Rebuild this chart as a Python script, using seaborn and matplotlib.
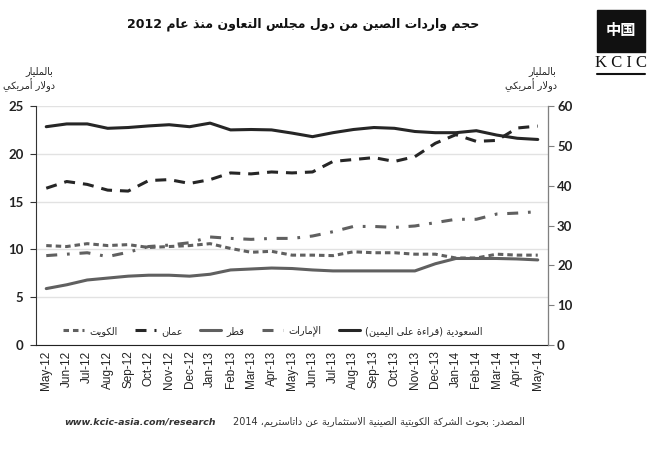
import re
import numpy as np
import pandas as pd
import seaborn as sns
import matplotlib.pyplot as plt
from matplotlib.patches import Rectangle
from matplotlib.lines import Line2D

# --- data ---
months = ['May-12', 'Jun-12', 'Jul-12', 'Aug-12', 'Sep-12', 'Oct-12', 'Nov-12', 'Dec-12',
          'Jan-13', 'Feb-13', 'Mar-13', 'Apr-13', 'May-13', 'Jun-13', 'Jul-13', 'Aug-13',
          'Sep-13', 'Oct-13', 'Nov-13', 'Dec-13', 'Jan-14', 'Feb-14', 'Mar-14', 'Apr-14', 'May-14']

# left axis (bn USD)
kuwait = [10.4, 10.3, 10.6, 10.4, 10.5, 10.2, 10.3, 10.4, 10.6, 10.1, 9.7, 9.8, 9.4,
          9.4, 9.35, 9.75, 9.65, 9.65, 9.5, 9.5, 9.1, 9.1, 9.5, 9.4, 9.4]
oman = [16.4, 17.1, 16.8, 16.2, 16.1, 17.2, 17.3, 16.9, 17.3, 18.0, 17.9, 18.1, 18.0,
        18.1, 19.2, 19.4, 19.6, 19.2, 19.7, 21.1, 22.0, 21.3, 21.4, 22.7, 22.9]
qatar = [5.9, 6.3, 6.8, 7.0, 7.2, 7.3, 7.3, 7.2, 7.4, 7.85, 7.95, 8.05, 8.0,
         7.85, 7.75, 7.75, 7.75, 7.75, 7.75, 8.5, 9.05, 9.05, 9.05, 9.0, 8.9]
uae = [9.35, 9.5, 9.65, 9.25, 9.7, 10.3, 10.45, 10.7, 11.3, 11.15, 11.05, 11.15, 11.15,
       11.4, 11.85, 12.4, 12.4, 12.3, 12.45, 12.8, 13.15, 13.15, 13.7, 13.8, 13.95]
# right axis (bn USD)
saudi = [54.8, 55.5, 55.5, 54.4, 54.6, 55.0, 55.3, 54.8, 55.7, 54.0, 54.1, 54.0, 53.2,
         52.3, 53.3, 54.1, 54.6, 54.4, 53.6, 53.3, 53.3, 53.8, 52.7, 51.9, 51.6]

left_ticks = [0, 5, 10, 15, 20, 25]
right_ticks = [0, 10, 20, 30, 40, 50, 60]

# --- minimal arabic shaping (presentation forms + visual order) ---
DUAL = {'ئ': 0xFE89, 'ب': 0xFE8F, 'ت': 0xFE95, 'ث': 0xFE99, 'ج': 0xFE9D, 'ح': 0xFEA1,
        'خ': 0xFEA5, 'س': 0xFEB1, 'ش': 0xFEB5, 'ص': 0xFEB9, 'ض': 0xFEBD, 'ط': 0xFEC1,
        'ظ': 0xFEC5, 'ع': 0xFEC9, 'غ': 0xFECD, 'ف': 0xFED1, 'ق': 0xFED5, 'ك': 0xFED9,
        'ل': 0xFEDD, 'م': 0xFEE1, 'ن': 0xFEE5, 'ه': 0xFEE9, 'ي': 0xFEF1}
RIGHT = {'آ': 0xFE81, 'أ': 0xFE83, 'ؤ': 0xFE85, 'إ': 0xFE87, 'ا': 0xFE8D, 'ة': 0xFE93,
         'د': 0xFEA9, 'ذ': 0xFEAB, 'ر': 0xFEAD, 'ز': 0xFEAF, 'و': 0xFEED, 'ى': 0xFEEF}
LAM_ALEF = {'ا': 0xFEFB, 'أ': 0xFEF7, 'إ': 0xFEF9, 'آ': 0xFEF5}


def ar(text):
    res = []
    prev = ''
    i = 0
    while i < len(text):
        c = text[i]
        nxt = text[i + 1] if i + 1 < len(text) else ''
        conn = prev in DUAL
        if c == 'ل' and nxt in LAM_ALEF:
            res.append(chr(LAM_ALEF[nxt] + (1 if conn else 0)))
            prev = nxt
            i += 2
            continue
        if c in DUAL:
            fwd = nxt in DUAL or nxt in RIGHT
            res.append(chr(DUAL[c] + [[0, 2], [1, 3]][conn][fwd]))
        elif c in RIGHT:
            res.append(chr(RIGHT[c] + (1 if conn else 0)))
        else:
            res.append(c)
        prev = c
        i += 1
    s = ''.join(res)[::-1].translate(str.maketrans('()', ')('))
    return re.sub(r'[A-Za-z0-9]+', lambda m: m.group(0)[::-1], s)


sns.set_style('white')
plt.rcParams['font.family'] = ['DejaVu Sans']

fig = plt.figure(figsize=(6.66, 4.5), dpi=100)
ax = fig.add_axes([36 / 666, 1 - 345 / 450, 512 / 666, 239 / 450])
ax2 = ax.twinx()

grey = '#606060'
black = '#262626'
lw = 2.2
sns.lineplot(x=months, y=kuwait, ax=ax, sort=False, color=grey, lw=lw,
             linestyle=(0, (1.8, 1.3)), label=ar('الكويت'))
sns.lineplot(x=months, y=oman, ax=ax, sort=False, color=black, lw=lw,
             linestyle=(0, (3.6, 2.6)), label=ar('عمان'))
sns.lineplot(x=months, y=qatar, ax=ax, sort=False, color=grey, lw=lw,
             label=ar('قطر'))
sns.lineplot(x=months, y=uae, ax=ax, sort=False, color=grey, lw=lw,
             linestyle=(0, (3.6, 3.2, 0.9, 3.2)), label=ar('الإمارات'))
sns.lineplot(x=months, y=saudi, ax=ax2, sort=False, color=black, lw=lw,
             label=ar('السعودية (قراءة على اليمين)'))

ax.set_ylim(0, 25)
ax2.set_ylim(0, 60)
ax.set_xlim(-0.5, len(months) - 0.5)
ax.set_yticks(left_ticks)
ax2.set_yticks(right_ticks)
ax.yaxis.grid(True, color='#e2e2e2', lw=1)
ax.set_axisbelow(True)

# x ticks between categories
ax.set_xticks(range(len(months)))
ax.set_xticklabels(months, rotation=90, fontsize=8.5, family='Liberation Sans', color='#222222')
ax.set_xticks(np.arange(-0.5, len(months), 1), minor=True)
ax.tick_params(axis='x', which='major', length=0, pad=4)
ax.tick_params(axis='x', which='minor', length=5, color='#333333', width=0.8)
ax.tick_params(axis='y', length=4, color='#333333', width=0.8, pad=5,
               labelsize=9.5)
ax2.tick_params(axis='y', length=4, color='#808080', width=0.8, pad=2.5, labelsize=9.5)
for lab in ax.get_yticklabels() + ax2.get_yticklabels():
    lab.set_family('Lato')
    lab.set_fontweight('bold')
    lab.set_color('#222222')

for a in (ax, ax2):
    a.spines['top'].set_visible(False)
    a.set_ylabel('')
ax.spines['left'].set_color('#333333')
ax.spines['bottom'].set_color('#222222')
ax2.spines['right'].set_color('#808080')
ax2.spines['left'].set_visible(False)
ax2.spines['bottom'].set_visible(False)

# legend
if ax2.get_legend():
    ax2.get_legend().remove()
handles = ax.get_lines()[:4] + ax2.get_lines()[:1]
labels = [h.get_label() for h in handles]
ax.legend(handles, labels, ncol=5, frameon=False, loc='lower left',
          bbox_to_anchor=(0.035, 0.0), handlelength=2.2, columnspacing=1.8,
          handletextpad=0.5, prop={'size': 7, 'family': 'DejaVu Sans'})

# titles and labels
fig.text(303 / 666, 1 - 24 / 450, ar('حجم واردات الصين من دول مجلس التعاون منذ عام 2012'),
         ha='center', va='center', fontsize=9, fontweight='bold', color='#111111')
fig.text(53 / 666, 1 - 71 / 450, ar('بالمليار'), ha='right', va='center', fontsize=7)
fig.text(55 / 666, 1 - 85 / 450, ar('دولار أمريكي'), ha='right', va='center', fontsize=7)
fig.text(556 / 666, 1 - 71 / 450, ar('بالمليار'), ha='right', va='center', fontsize=7)
fig.text(557 / 666, 1 - 85 / 450, ar('دولار أمريكي'), ha='right', va='center', fontsize=7)

fig.text(140 / 666, 1 - 422 / 450, 'www.kcic-asia.com/research', ha='center', va='center',
         fontsize=6.8, style='italic', fontweight='bold', color='#333333')
fig.text(525 / 666, 1 - 422 / 450,
         ar('المصدر: بحوث الشركة الكويتية الصينية الاستثمارية عن داتاستريم، 2014'),
         ha='right', va='center', fontsize=7, color='#333333')

# KCIC logo
fig.patches.append(Rectangle((597 / 666, 1 - 52 / 450), 48 / 666, 42 / 450,
                             transform=fig.transFigure, color='#111111'))
fig.text(621 / 666, 1 - 30 / 450, '中国', ha='center', va='center', fontsize=11,
         color='white', family='Noto Sans CJK SC', fontweight='bold')
fig.text(621 / 666, 1 - 63 / 450, 'K C I C', ha='center', va='center', fontsize=12,
         color='#111111', family='Liberation Serif')
fig.add_artist(Line2D([597 / 666, 645 / 666], [1 - 74 / 450, 1 - 74 / 450],
                      transform=fig.transFigure, color='#111111', lw=1.5))

fig.savefig('out.png', dpi=100)
